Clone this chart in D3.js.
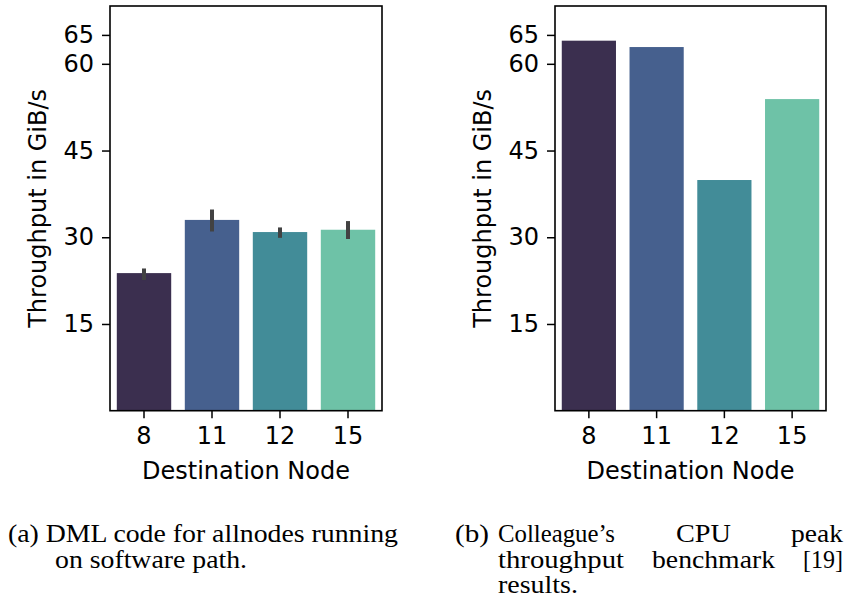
<!DOCTYPE html>
<html>
<head>
<meta charset="utf-8">
<script src="https://cdn.jsdelivr.net/npm/d3@7"></script>
<style>
  body { margin: 0; background: #fff; }
  svg text { fill: #000; }
  .tick-label, .axis-label { font-family: "DejaVu Sans", sans-serif; font-size: 24px; }
  .caption { font-family: "Liberation Serif", "DejaVu Serif", serif; font-size: 25px; }
</style>
</head>
<body>
<div class="chart"></div>
<script>
// data
var nodes = ["8", "11", "12", "15"];
var dmlMean = [23.8, 33.0, 30.9, 31.3];
var dmlLow = [22.6, 31.0, 29.9, 29.7];
var dmlHigh = [24.6, 34.8, 31.7, 32.8];
var peakValues = [64.0, 62.9, 39.9, 53.9];
var yTicks = [15, 30, 45, 60, 65];
var barColors = ["#3b2f4f", "#46608e", "#428c98", "#6ec2a7"];

var svgWidth = 845;
var svgHeight = 608;

var svg = d3.select(".chart")
    .append("svg")
    .attr("width", svgWidth)
    .attr("height", svgHeight);

// one bar panel, left/right are the spine positions
function drawPanel(left, right, values, low, high) {
    var top = 6, bottom = 410.7;

    var x = d3.scaleBand()
        .domain(nodes)
        .range([left, right])
        .paddingInner(0.2)
        .paddingOuter(0.1);

    var y = d3.scaleLinear().domain([0, 70]).range([bottom, top]);

    var g = svg.append("g");

    g.selectAll("rect")
        .data(values)
        .enter()
        .append("rect")
        .attr("x", function(d, i) { return x(nodes[i]); })
        .attr("y", function(d) { return y(d); })
        .attr("width", x.bandwidth())
        .attr("height", function(d) { return y(0) - y(d); })
        .attr("fill", function(d, i) { return barColors[i]; });

    // error bars (only left panel)
    if (low) {
        g.selectAll("line.err")
            .data(low)
            .enter()
            .append("line")
            .attr("class", "err")
            .attr("x1", function(d, i) { return x(nodes[i]) + x.bandwidth() / 2; })
            .attr("x2", function(d, i) { return x(nodes[i]) + x.bandwidth() / 2; })
            .attr("y1", function(d) { return y(d); })
            .attr("y2", function(d, i) { return y(high[i]); })
            .attr("stroke", "#424242")
            .attr("stroke-width", 4);
    }

    // axes
    var bottomAxis = d3.axisBottom(x).tickSize(7.5).tickPadding(9).tickSizeOuter(0);
    var leftAxis = d3.axisLeft(y).tickValues(yTicks).tickSize(8).tickPadding(8).tickSizeOuter(0);

    var xg = g.append("g")
        .attr("transform", "translate(0," + bottom + ")")
        .call(bottomAxis);
    var yg = g.append("g")
        .attr("transform", "translate(" + left + ",0)")
        .call(leftAxis);

    [xg, yg].forEach(function(a) {
        a.attr("font-size", null).attr("font-family", null);
        a.select(".domain").remove();
        a.selectAll(".tick line").attr("stroke", "#000").attr("stroke-width", 1.5);
        a.selectAll(".tick text")
            .attr("class", "tick-label")
            .attr("fill", "#000");
    });

    // frame
    g.append("rect")
        .attr("x", left)
        .attr("y", top)
        .attr("width", right - left)
        .attr("height", bottom - top)
        .attr("fill", "none")
        .attr("stroke", "#000")
        .attr("stroke-width", 1.6);

    g.append("text")
        .attr("class", "axis-label")
        .attr("x", (left + right) / 2)
        .attr("y", 479)
        .attr("text-anchor", "middle")
        .text("Destination Node");

    g.append("text")
        .attr("class", "axis-label")
        .attr("transform", "translate(" + (left - 64) + "," + ((top + bottom) / 2) + ") rotate(-90)")
        .attr("text-anchor", "middle")
        .text("Throughput in GiB/s");
}

drawPanel(110, 382, dmlMean, dmlLow, dmlHigh);
drawPanel(555, 826, peakValues, null, null);

// captions: words stretched to the widths of the original serif typesetting
function word(x, y, txt, w) {
    svg.append("text")
        .attr("class", "caption")
        .attr("x", x)
        .attr("y", y)
        .attr("textLength", w)
        .attr("lengthAdjust", "spacingAndGlyphs")
        .text(txt);
}

word(8, 542, "(a) DML code for allnodes running", 390);
word(55, 568, "on software path.", 192);

word(455, 542, "(b)", 34);
word(498, 542, "Colleague\u2019s", 117);
word(676, 542, "CPU", 55);
word(791, 542, "peak", 52);
word(498, 568, "throughput", 126);
word(652, 568, "benchmark", 123);
word(803, 568, "[19]", 40);
word(498, 593, "results.", 80);
</script>
</body>
</html>
